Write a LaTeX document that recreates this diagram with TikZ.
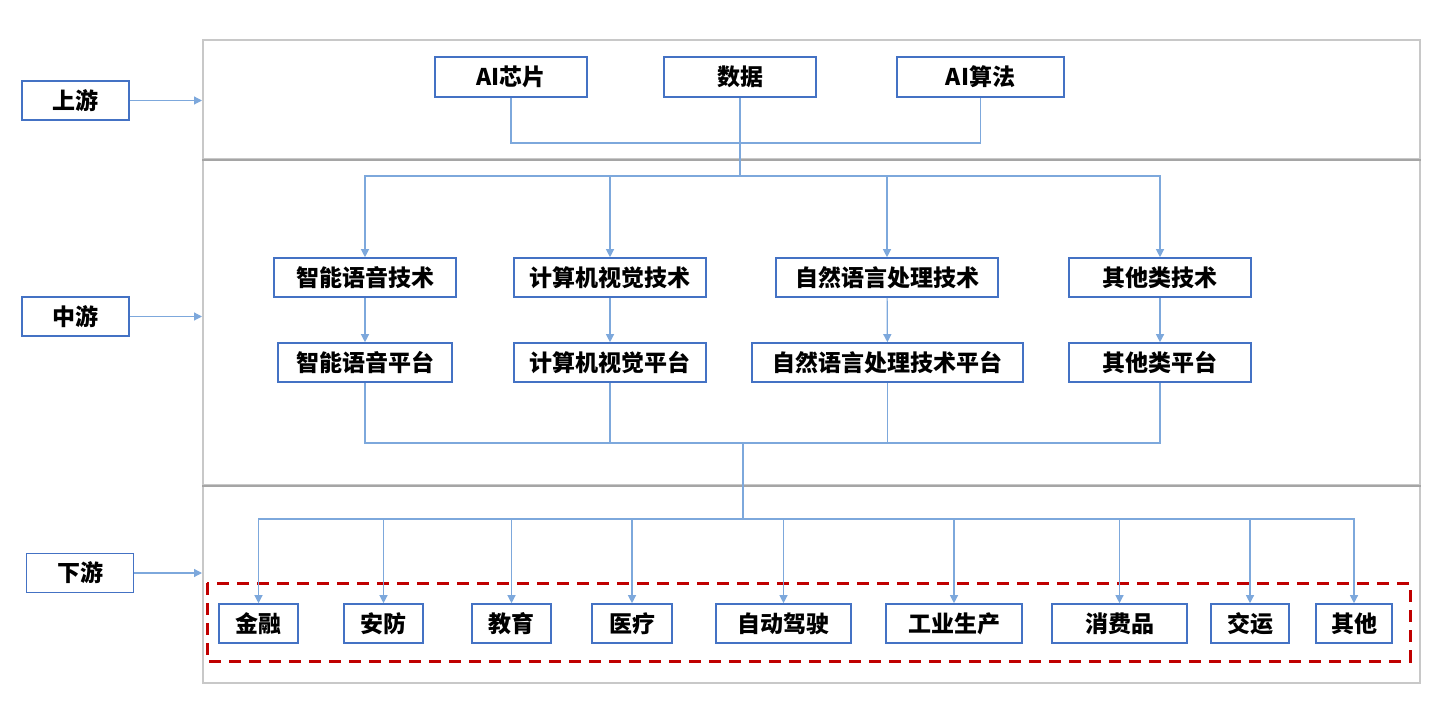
\documentclass[tikz,border=0pt]{standalone}
\usepackage{fontspec}
\setmainfont{Noto Sans CJK SC}
\usepackage{tikz}
\usetikzlibrary{arrows.meta,positioning}
\definecolor{boxblue}{RGB}{68,114,196}
\definecolor{lineblue}{RGB}{125,168,220}
\definecolor{framegray}{RGB}{200,200,200}
\definecolor{divgray}{RGB}{165,165,165}
\definecolor{groupred}{RGB}{192,0,0}

\begin{document}
\begin{tikzpicture}
	[
		x=0.5pt, y=-0.5pt,
		every node/.style = {font=\fontsize{11.5}{13}\selectfont\bfseries},
		box/.style = {draw=boxblue, line width=0.8pt, minimum height=19.5pt, inner sep=0pt},
		section/.style = {draw=framegray, line width=1pt, minimum width=608.5pt, inner sep=0pt},
		conn/.style = {draw=lineblue, line width=0.6pt},
		arr/.style = {conn, -{Triangle[length=4pt,width=4pt]}},
		group/.style = {draw=groupred, line width=1.5pt, dash pattern=on 6pt off 4pt},
	]
  \useasboundingbox (0,0) rectangle (1450,710);

  % sections
  \node[section, minimum height=59.5pt] (upsec) at (811.5,99.5) {};
  \node[section, minimum height=163pt] (midsec) at (811.5,322) {};
  \node[section, minimum height=99pt] (lowsec) at (811.5,584) {};
  \draw[divgray, line width=1.2pt] (upsec.south west) -- (upsec.south east);
  \draw[divgray, line width=1.2pt] (midsec.south west) -- (midsec.south east);

  % stages
  \node[box, minimum width=53.5pt] (up) at (75.5,100.5) {上游};
  \node[box, minimum width=53.5pt] (mid) at (75.5,316.5) {中游};
  \node[box, minimum width=53.5pt] (down) at (80,573) {下游};

  % upstream
  \node[box, minimum width=76pt, minimum height=20pt] (chip) at (511,77) {AI芯片};
  \node[box, minimum width=76pt, minimum height=20pt] (data) at (740,77) {数据};
  \node[box, minimum width=83.5pt, minimum height=20pt] (algo) at (980.5,77) {AI算法};

  % midstream
  \node[box, minimum width=91pt] (voicetech) at (365,277.5) {智能语音技术};
  \node[box, minimum width=96pt] (cvtech) at (610,277.5) {计算机视觉技术};
  \node[box, minimum width=111pt] (nlptech) at (887,277.5) {自然语言处理技术};
  \node[box, minimum width=91pt] (othertech) at (1160,277.5) {其他类技术};

  \node[box, minimum width=87pt] (voiceplat) at (365,362.5) {智能语音平台};
  \node[box, minimum width=96pt] (cvplat) at (610,362.5) {计算机视觉平台};
  \node[box, minimum width=135.5pt] (nlpplat) at (887.5,362.5) {自然语言处理技术平台};
  \node[box, minimum width=91pt] (otherplat) at (1160,362.5) {其他类平台};

  % downstream
  \node[box, minimum width=39.5pt] (finance) at (258.5,623.5) {金融};
  \node[box, minimum width=39.5pt] (security) at (383.5,623.5) {安防};
  \node[box, minimum width=39.5pt] (edu) at (511.5,623.5) {教育};
  \node[box, minimum width=40pt] (medical) at (632,623.5) {医疗};
  \node[box, minimum width=67.5pt] (autodrive) at (783.5,623.5) {自动驾驶};
  \node[box, minimum width=68pt] (industry) at (954,623.5) {工业生产};
  \node[box, minimum width=67.5pt] (consumer) at (1119.5,623.5) {消费品};
  \node[box, minimum width=39pt] (transport) at (1250,623.5) {交运};
  \node[box, minimum width=38pt] (others) at (1354,623.5) {其他};

  \draw[group] (207,583) rectangle (1410,661);

  % buses
  \coordinate (topbus) at (740,143);
  \coordinate (midbus) at (740,176);
  \coordinate (platbus) at (743,443);
  \coordinate (appbus) at (743,519);

  % stage arrows
  \draw[arr] (up.east) -- (up.east -| upsec.west);
  \draw[arr] (mid.east) -- (mid.east -| midsec.west);
  \draw[arr] (down.east) -- (down.east -| lowsec.west);

  % upstream to midstream
  \draw[conn] (chip.south) |- (topbus) -| (algo.south);
  \draw[conn] (data.south) -- (midbus);
  \draw[arr] (midbus) -| (voicetech.north);
  \draw[arr] (midbus) -| (cvtech.north);
  \draw[arr] (midbus) -| (nlptech.north);
  \draw[arr] (midbus) -| (othertech.north);

  \draw[arr] (voicetech) -- (voiceplat);
  \draw[arr] (cvtech) -- (cvplat);
  \draw[arr] (nlptech) -- (nlpplat);
  \draw[arr] (othertech) -- (otherplat);

  % midstream to downstream
  \draw[conn] (voiceplat.south) |- (platbus);
  \draw[conn] (cvplat.south) |- (platbus);
  \draw[conn] (nlpplat.south) |- (platbus);
  \draw[conn] (otherplat.south) |- (platbus);
  \draw[conn] (platbus) -- (appbus);
  \draw[arr] (appbus) -| (finance.north);
  \draw[arr] (appbus) -| (security.north);
  \draw[arr] (appbus) -| (edu.north);
  \draw[arr] (appbus) -| (medical.north);
  \draw[arr] (appbus) -| (autodrive.north);
  \draw[arr] (appbus) -| (industry.north);
  \draw[arr] (appbus) -| (consumer.north);
  \draw[arr] (appbus) -| (transport.north);
  \draw[arr] (appbus) -| (others.north);

\end{tikzpicture}
\end{document}
